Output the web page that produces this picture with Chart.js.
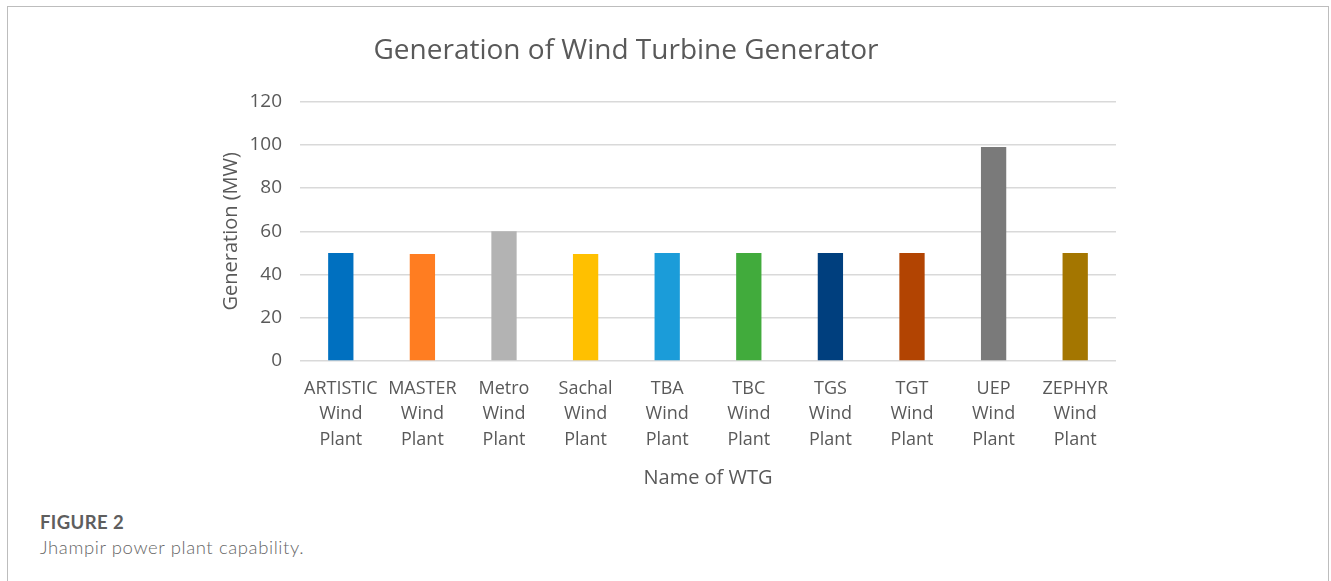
<!DOCTYPE html>
<html>
<head>
<meta charset="utf-8">
<script src="https://cdn.jsdelivr.net/npm/chart.js@4/dist/chart.umd.min.js"></script>
<style>
  html, body { margin: 0; padding: 0; background: #fff; width: 1331px; height: 581px; overflow: hidden; }
  #frame { position: absolute; left: 7px; top: 6px; width: 1322px; height: 600px; border: 1px solid #bdbdbd; border-bottom: none; box-sizing: border-box; }
  #wrap { position: absolute; left: 0; top: 0; width: 1331px; height: 500px; }
  .cap { position: absolute; left: 40px; font-family: "Lato", "Open Sans", sans-serif; color: #5e5e5e; font-size: 18.5px; }
  #cap1 { top: 511px; font-weight: bold; letter-spacing: 0.4px; }
  #cap2 { top: 536px; font-weight: 300; letter-spacing: 0.6px; color: #666666; }
</style>
</head>
<body>
<div id="frame"></div>
<div id="wrap"><canvas id="c" width="1331" height="500"></canvas></div>
<div class="cap" id="cap1">FIGURE 2</div>
<div class="cap" id="cap2">Jhampir power plant capability.</div>
<script>
const categories = [
  ["ARTISTIC", "Wind", "Plant"],
  ["MASTER", "Wind", "Plant"],
  ["Metro", "Wind", "Plant"],
  ["Sachal", "Wind", "Plant"],
  ["TBA", "Wind", "Plant"],
  ["TBC", "Wind", "Plant"],
  ["TGS", "Wind", "Plant"],
  ["TGT", "Wind", "Plant"],
  ["UEP", "Wind", "Plant"],
  ["ZEPHYR", "Wind", "Plant"]
];
const generationMW = [50, 49.5, 60, 49.5, 50, 50, 50, 50, 99, 50];
const barColors = ["#0070C0", "#FF7D21", "#B3B3B3", "#FFC000", "#1B9CD9", "#41AB3C", "#003F7E", "#B24402", "#7A7A7A", "#A47600"];
const yTicks = [0, 20, 40, 60, 80, 100, 120];
const chartTitle = "Generation of Wind Turbine Generator";
const xTitle = "Name of WTG";
const yTitle = "Generation (MW)";

const textColor = "#595959";
const fontFam = "'Open Sans', sans-serif";

new Chart(document.getElementById("c"), {
  type: "bar",
  data: {
    labels: categories,
    datasets: [{
      data: generationMW,
      backgroundColor: barColors,
      borderWidth: 0,
      categoryPercentage: 1,
      barPercentage: 0.31
    }]
  },
  options: {
    responsive: false,
    animation: false,
    layout: { padding: { left: 136, right: 215, top: 0, bottom: 0 } },
    plugins: {
      legend: { display: false },
      tooltip: { enabled: false },
      title: {
        display: true,
        text: chartTitle,
        color: textColor,
        font: { family: fontFam, size: 28, weight: "normal" },
        padding: { top: 34, bottom: 34 }
      }
    },
    scales: {
      x: {
        grid: { display: false },
        border: { display: false },
        ticks: {
          color: textColor,
          font: { family: fontFam, size: 18, lineHeight: 1.42 },
          maxRotation: 0, minRotation: 0, autoSkip: false, padding: 7
        },
        title: {
          display: true, text: xTitle, color: textColor,
          font: { family: fontFam, size: 20 }, padding: { top: 10, bottom: 10 }
        },
        afterFit: (s) => { s.height = 139; }
      },
      y: {
        min: 0, max: 120,
        afterBuildTicks: (s) => { s.ticks = yTicks.map(v => ({ value: v })); },
        grid: { color: "#D9D9D9", lineWidth: 1.5, drawTicks: false },
        border: { display: false },
        ticks: {
          color: textColor,
          font: { family: fontFam, size: 19 },
          padding: 18
        },
        title: {
          display: true, text: yTitle, color: textColor,
          font: { family: fontFam, size: 20 }, padding: { top: 83, bottom: 8 }
        },
        afterFit: (s) => { s.width = 164; }
      }
    }
  }
});
</script>
</body>
</html>
